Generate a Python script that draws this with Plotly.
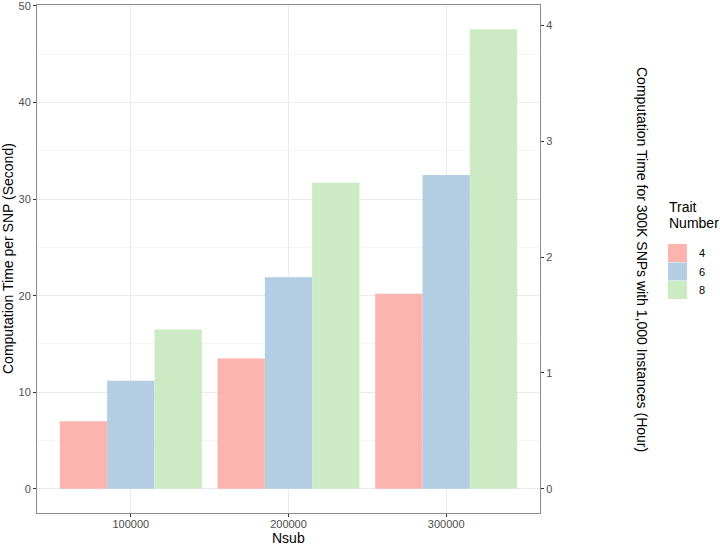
import plotly.graph_objects as go

nsub = [100000, 200000, 300000]
nsub_labels = ["100000", "200000", "300000"]
trait_numbers = ["4", "6", "8"]
time_trait4 = [7.0, 13.5, 20.2]
time_trait6 = [11.2, 21.9, 32.5]
time_trait8 = [16.5, 31.7, 47.6]
colors = ["#FBB4AE", "#B3CDE3", "#CCEBC5"]
sec_per_hour_factor = 12.0  # 300K SNPs / 1000 instances / 3600 s
y_range = [-2.5, 50.1]

fig = go.Figure()
for name, vals, c in zip(trait_numbers, [time_trait4, time_trait6, time_trait8], colors):
    fig.add_trace(go.Bar(x=nsub, y=vals, name=name, marker=dict(color=c, line=dict(width=0)),
                         showlegend=False))
# invisible trace to anchor secondary axis
fig.add_trace(go.Scatter(x=[None], y=[None], yaxis="y2", showlegend=False, hoverinfo="skip"))

font = "Liberation Sans, Arial, sans-serif"
grid_major = "#EBEBEB"
grid_minor = "#F5F5F5"
border = "#8C8C8C"
tick_font = dict(family=font, size=11, color="#4D4D4D")

fig.update_layout(
    width=720, height=545,
    margin=dict(l=37, r=180, t=5, b=32, autoexpand=False),
    paper_bgcolor="white", plot_bgcolor="white",
    barmode="group", bargap=0.1, bargroupgap=0,
    font=dict(family=font, size=11, color="#4D4D4D"),
    xaxis=dict(
        range=[40500, 359500], tickmode="array", tickvals=nsub, ticktext=nsub_labels,
        showgrid=True, gridcolor=grid_major, gridwidth=1,
        showline=True, linecolor=border, linewidth=1, mirror=True,
        ticks="outside", ticklen=3, tickcolor="#333333",
        tickfont=tick_font, zeroline=False, ticklabeloverflow="allow",
        ticklabelstandoff=-2,
    ),
    yaxis=dict(
        range=y_range, tickmode="linear", tick0=0, dtick=10,
        showgrid=True, gridcolor=grid_major, gridwidth=1,
        minor=dict(dtick=5, tick0=0, showgrid=True, gridcolor=grid_minor, gridwidth=1),
        showline=True, linecolor=border, linewidth=1, mirror=True,
        ticks="outside", ticklen=3, tickcolor="#333333",
        tickfont=tick_font, zeroline=False, ticklabeloverflow="allow",
    ),
    yaxis2=dict(
        overlaying="y", side="right",
        range=[y_range[0] / sec_per_hour_factor, y_range[1] / sec_per_hour_factor],
        tickmode="array", tickvals=[0, 1, 2, 3, 4],
        showgrid=False, zeroline=False, showline=False,
        ticks="outside", ticklen=3, tickcolor="#333333",
        tickfont=tick_font, ticklabeloverflow="allow",
    ),
)

title_font = dict(family=font, size=14, color="black")
ann = [
    dict(text="Nsub", xref="paper", yref="paper", x=0.5, y=0, yshift=-25,
         showarrow=False, font=title_font, xanchor="center", yanchor="middle"),
    dict(text="Computation Time per SNP (Second)", xref="paper", yref="paper", x=0, y=0.5,
         xshift=-29, showarrow=False, font=title_font, textangle=-90,
         xanchor="center", yanchor="middle"),
    dict(text="Computation Time for 300K SNPs with 1,000 Instances (Hour)", xref="paper",
         yref="paper", x=1, y=0.5, xshift=102, showarrow=False, font=title_font, textangle=90,
         xanchor="center", yanchor="middle"),
    dict(text="Trait", xref="paper", yref="paper", x=1, y=1, xshift=127,
         yshift=-(207 - 5), showarrow=False, font=title_font,
         xanchor="left", yanchor="middle"),
    dict(text="Number", xref="paper", yref="paper", x=1, y=1, xshift=127,
         yshift=-(223 - 5), showarrow=False, font=title_font,
         xanchor="left", yanchor="middle"),
]
shapes = []
key_top = 244
key_h = 18.5
for i, (name, c) in enumerate(zip(trait_numbers, colors)):
    y0 = key_top + i * key_h
    shapes.append(dict(type="rect", xref="paper", yref="paper",
                       x0=(668 - 37) / 503, x1=(687 - 37) / 503,
                       y0=(513 - (y0 + key_h - 0.5)) / 508, y1=(513 - y0) / 508,
                       fillcolor=c, line=dict(width=0)))
    ann.append(dict(text=name, xref="paper", yref="paper", x=(697 - 37) / 503,
                    y=(513 - (y0 + key_h / 2)) / 508, showarrow=False,
                    font=dict(family=font, size=11, color="black"),
                    xanchor="left", yanchor="middle"))
fig.update_layout(annotations=ann, shapes=shapes)

fig.write_html("out.html", config={"displayModeBar": False},
               post_script="document.body.style.margin='0';")
